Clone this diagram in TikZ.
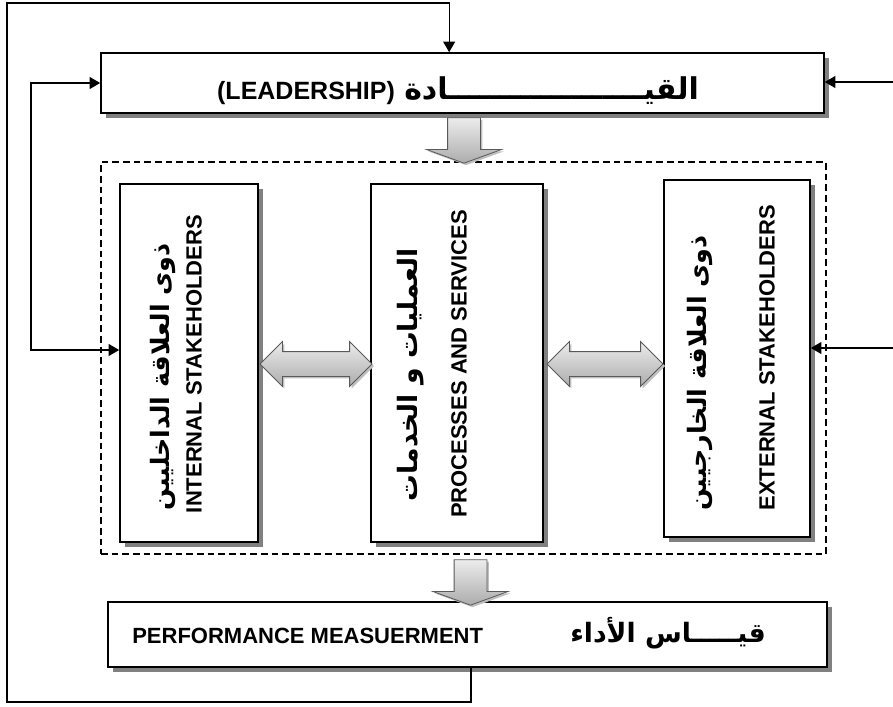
\documentclass[tikz,border=0pt]{standalone}
\usepackage{fontspec}
\setmainfont{Liberation Sans}
\newfontfamily\arabicfont[Script=Arabic]{DejaVu Sans}
\usetikzlibrary{arrows.meta,shapes.arrows,shadows}
\TeXXeTstate=1

\tikzset{
  box/.style={draw, line width=1.2pt, fill=white,
    drop shadow={shadow xshift=3.5pt, shadow yshift=-3.5pt, fill=black!50, opacity=1}},
  blockarrow/.style={draw=gray!70!black, line width=0.6pt, top color=gray!15, bottom color=gray!65,
    drop shadow={shadow xshift=1.5pt, shadow yshift=-1.5pt, fill=black!25, opacity=1}},
  downarrow/.style={blockarrow, single arrow, shape border rotate=270, minimum height=34pt,
    inner sep=12pt, single arrow head extend=16pt, single arrow tip angle=140},
  bothways/.style={blockarrow, double arrow, inner sep=9pt, double arrow head extend=7.5pt},
  conn/.style={line width=1pt},
  en/.style={font=\bfseries\fontsize{16.5}{18}\selectfont, inner sep=0pt},
  ar/.style={font=\arabicfont\bfseries\fontsize{19}{22}\selectfont, inner sep=0pt},
}

\begin{document}
\begin{tikzpicture}[x=0.75pt, y=-0.75pt, >={Triangle[length=8pt,width=9pt]}]
  \useasboundingbox (0,0) rectangle (893,707);

  % dashed group round the three columns
  \node[draw, line width=0.9pt, dash pattern=on 5pt off 3pt, minimum width=543.75pt,
    minimum height=294pt, inner sep=0pt] (grp) at (463.5,358) {};

  % boxes
  \node[box, minimum width=542.25pt, minimum height=45pt] (lead) at (462.5,83) {};
  \node[box, minimum width=103.5pt, minimum height=268.5pt] (int) at (189,363) {};
  \node[box, minimum width=129pt, minimum height=268.5pt] (proc) at (457,363) {};
  \node[box, minimum width=109.5pt, minimum height=267.75pt] (ext) at (737,358.5) {};
  \node[box, minimum width=539.25pt, minimum height=48.75pt] (perf) at (467.5,634.5) {};

  % labels
  \node[inner sep=0pt] (leadtxt) at (458,91)
    {{\bfseries\fontsize{18.75}{22}\selectfont (LEADERSHIP)}\hspace{7pt}%
     {\arabicfont\bfseries\fontsize{22.5}{26}\selectfont\beginR القيـــــــــــــــــــادة\endR}};
  \node[ar, rotate=90, anchor=east] (intAR) at (163,243) {\beginR ذوى العلاقة الداخليين\endR};
  \node[en, rotate=90, anchor=east] (intEN) at (194,215) {INTERNAL STAKEHOLDERS};
  \node[ar, rotate=90, anchor=east, font=\arabicfont\bfseries\fontsize{20}{24}\selectfont] (procAR)
    at (411,248) {\beginR العمليات و الخدمات\endR};
  \node[en, rotate=90, anchor=east] (procEN) at (459,210) {PROCESSES AND SERVICES};
  \node[ar, rotate=90, anchor=east] (extAR) at (700,235) {\beginR ذوى العلاقة الخارجيين\endR};
  \node[en, rotate=90, anchor=east] (extEN) at (767,205) {EXTERNAL STAKEHOLDERS};
  \node[en, anchor=west] (perfEN) at (132,636) {PERFORMANCE MEASUERMENT};
  \node[ar, anchor=east, font=\arabicfont\bfseries\fontsize{20}{24}\selectfont] (perfAR) at (766,633)
    {\beginR قيـــــاس الأداء\endR};

  % shaded block arrows
  \node[downarrow] (down1) at (464,137.5) {};
  \node[downarrow] (down2) at (470.5,579.5) {};
  \node[bothways, minimum height=84pt] (both1) at (316,364) {};
  \node[bothways, minimum height=87pt] (both2) at (605,364) {};

  % connectors
  \coordinate (fbBot) at (7,702);
  \coordinate (fbTop) at (7,3);
  \coordinate (loopL) at (31,350);
  \coordinate (inLead) at (893,82);
  \coordinate (inExt) at (893,348);
  \draw[conn,->] ([xshift=2.6pt]perf.south) -- ([xshift=2.6pt]perf.south |- fbBot)
    -| (fbTop) -| ([xshift=-10pt]lead.north);
  \draw[conn,<->] (lead.west) -| (loopL) -- (int.west |- loopL);
  \path (inLead) edge [conn,->] (lead.east |- inLead);
  \path (inExt) edge [conn,->] (ext.east |- inExt);
\end{tikzpicture}
\end{document}
